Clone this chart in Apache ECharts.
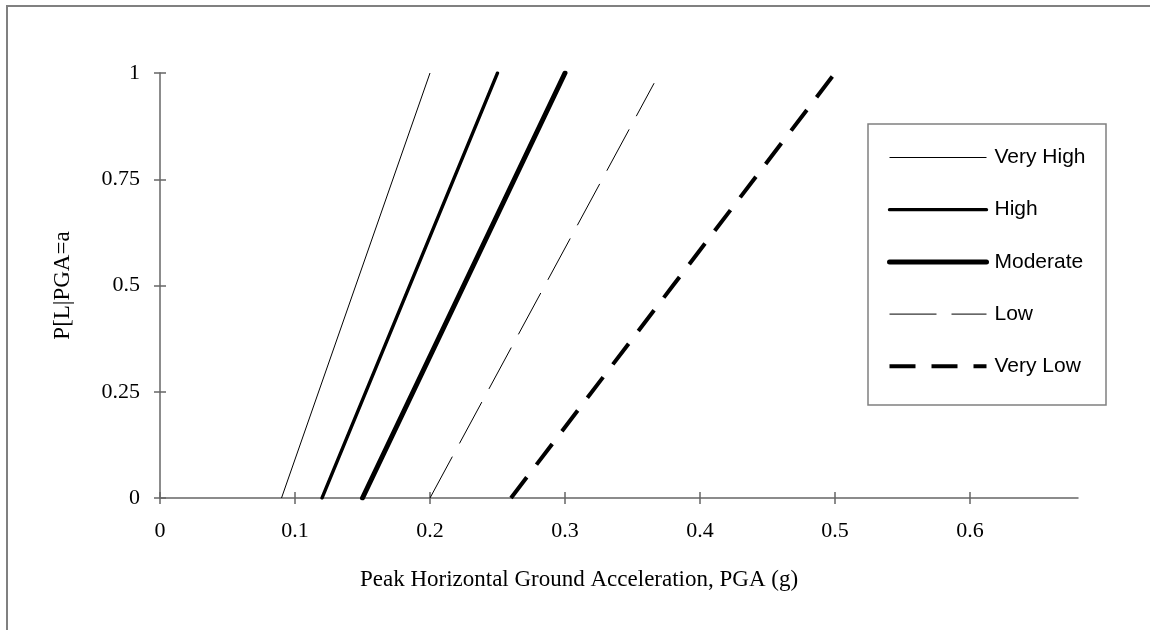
<!DOCTYPE html>
<html><head><meta charset="utf-8">
<script src="https://cdn.jsdelivr.net/npm/echarts@6/dist/echarts.min.js"></script>
<style>html,body{margin:0;padding:0;background:#fff}#c{width:1150px;height:630px}</style>
</head><body><div id="c"></div>
<script>
const seriesNames = ['Very High', 'High', 'Moderate', 'Low', 'Very Low'];
const veryHigh = [[0.09, 0], [0.20, 1]];
const high = [[0.12, 0], [0.25, 1]];
const moderate = [[0.15, 0], [0.30, 1]];
const low = [[0.20, 0], [0.366, 0.976]];
const veryLow = [[0.26, 0], [0.38, 0.5], [0.50, 1]];
const xTicks = [0, 0.1, 0.2, 0.3, 0.4, 0.5, 0.6];
const yTicks = [0, 0.25, 0.5, 0.75, 1];
const xTitle = 'Peak Horizontal Ground Acceleration, PGA (g)';
const yTitle = 'P[L|PGA=a';

const axisColor = '#666';
const serif = 'Liberation Serif';
const sans = 'Liberation Sans';

const chart = echarts.init(document.getElementById('c'), null, {renderer: 'canvas'});

function mkX(inside, main) {
  return {
    type: 'value', min: 0, max: 0.68, position: 'bottom', offset: 0,
    axisLine: {show: main, onZero: false, lineStyle: {color: axisColor, width: 1.5}},
    axisTick: {show: true, inside: inside, length: 6, customValues: xTicks, lineStyle: {color: axisColor, width: 1.5}},
    axisLabel: main ? {customValues: xTicks, fontFamily: serif, fontSize: 22, color: '#000', margin: 22} : {show: false},
    splitLine: {show: false},
    name: main ? xTitle : '',
    nameLocation: 'middle', nameGap: 70,
    nameTextStyle: {fontFamily: serif, fontSize: 23, color: '#000', padding: [0, 80, 0, 0]}
  };
}
function mkY(inside, main) {
  return {
    type: 'value', min: 0, max: 1, position: 'left', offset: 0,
    axisLine: {show: main, onZero: false, lineStyle: {color: axisColor, width: 1.5}},
    axisTick: {show: true, inside: inside, length: 6, customValues: yTicks, lineStyle: {color: axisColor, width: 1.5}},
    axisLabel: main ? {customValues: yTicks, fontFamily: serif, fontSize: 22, color: '#000', margin: 20} : {show: false},
    splitLine: {show: false},
    name: main ? yTitle : '',
    nameLocation: 'middle', nameGap: 86, nameRotate: 90,
    nameTextStyle: {fontFamily: serif, fontSize: 23, color: '#000'}
  };
}

const styles = [
  {width: 1, type: 'solid', cap: 'butt'},
  {width: 3.3, type: 'solid', cap: 'round'},
  {width: 5, type: 'solid', cap: 'round'},
  {width: 1, type: [47, 15], cap: 'butt'},
  {width: 4, type: [26, 16], cap: 'butt'}
];
const datas = [veryHigh, high, moderate, low, veryLow];

chart.setOption({
  animation: false,
  backgroundColor: '#fff',
  grid: {left: 160, top: 73, right: 72, bottom: 132, containLabel: false},
  xAxis: [mkX(false, true), mkX(true, false)],
  yAxis: [mkY(false, true), mkY(true, false)],
  legend: {
    orient: 'vertical', left: 887, top: 147, padding: 0,
    itemWidth: 97, itemHeight: 20, itemGap: 31.2,
    selectedMode: false,
    data: seriesNames,
    textStyle: {fontFamily: sans, fontSize: 21, color: '#000', padding: [0, 0, 0, 3]},
    lineStyle: {width: 'inherit'},
    itemStyle: {opacity: 0, borderWidth: 0}
  },
  graphic: [
    {type: 'rect', shape: {x: 7, y: 6, width: 1300, height: 800}, style: {fill: 'none', stroke: '#808080', lineWidth: 2}, silent: true},
    {type: 'rect', shape: {x: 868, y: 124, width: 238, height: 281}, style: {fill: 'none', stroke: '#808080', lineWidth: 1.5}, silent: true, z: -1}
  ],
  series: datas.map((d, i) => ({
    name: seriesNames[i], type: 'line', data: d,
    xAxisIndex: 0, yAxisIndex: 0,
    symbol: 'none', showSymbol: false,
    lineStyle: {color: '#000', width: styles[i].width, type: styles[i].type, cap: styles[i].cap},
    itemStyle: {color: '#000'}
  }))
});
</script></body></html>
